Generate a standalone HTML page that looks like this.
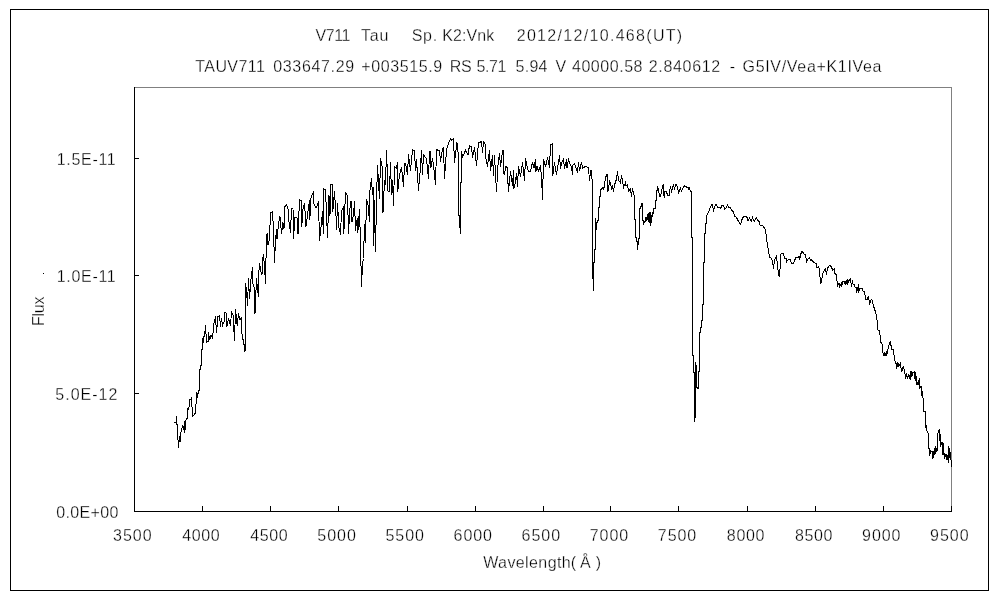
<!DOCTYPE html>
<html lang="ja"><head><meta charset="utf-8"><title>V711 Tau spectrum</title>
<style>html,body{margin:0;padding:0;background:#fff;}body{width:1000px;height:600px;overflow:hidden;}svg{display:block;}text{font-family:'Liberation Sans', 'IPAGothic', sans-serif;fill:#000;stroke:#fff;stroke-width:0.3px;paint-order:fill stroke;}</style></head><body>
<svg width="1000" height="600" viewBox="0 0 1000 600">
<rect x="0" y="0" width="1000" height="600" fill="#fff"/>
<rect x="10.5" y="9.5" width="978" height="581" fill="none" stroke="#000" stroke-width="1" shape-rendering="crispEdges"/>
<g shape-rendering="crispEdges">
<rect x="135" y="87" width="817" height="1" fill="#808080"/>
<rect x="951" y="87" width="1" height="424" fill="#808080"/>
<rect x="134" y="87" width="1" height="425" fill="#000"/>
<rect x="134" y="511" width="818" height="1" fill="#000"/>
<path d="M202 506h1v5h-1zM270 506h1v5h-1zM338 506h1v5h-1zM407 506h1v5h-1zM475 506h1v5h-1zM543 506h1v5h-1zM610 506h1v5h-1zM678 506h1v5h-1zM747 506h1v5h-1zM815 506h1v5h-1zM883 506h1v5h-1zM951 506h1v5h-1zM135 393h4v1h-4zM135 275h4v1h-4zM135 158h4v1h-4z" fill="#000"/>
</g>
<polyline points="174,422.5 176,422.5 176.5,416.5 177.5,432 178.5,447.5 179.5,436.5 180.5,441.5 181,432 182.5,425.5 183.5,430 184.5,421.5 184.8,432.5 186,420 187.5,418 188,408.5 188.8,409.5 189.5,400 191,399 191.5,397.5 192.5,416.5 194,415 195.5,413 196.5,396 197,392.5 197.5,397.5 198.5,390.5 199.5,390 199.5,369.5 200.5,369 200.5,365.5 201.5,365 201.5,350 202.5,349.5 202.5,338.5 203.5,343 203.5,336.5 204.5,336 205.5,325.5 206.5,342.5 207.5,341.5 208.5,341 208.5,332.5 209.5,340 211,335.5 212.5,338 214,323 215.5,316.5 216.5,332.5 218,316.5 219.5,315.5 220.5,326.5 221.5,318 222.5,325.5 224,322 225,312.5 226,312.5 227,326.5 228.5,318.5 230.5,326 231.5,311.5 233,315 234.5,340.5 235.5,309.5 237.2,325.5 238.5,313.5 240,320 241.5,317.5 242,334 242.5,339.5 243.5,340 243.5,344 244.5,344.5 244.5,352 245.5,350 245.5,283.5 246.5,290 247.5,305.5 248.5,278.5 249.5,299 250.5,285 251.5,274 252.5,267.5 253,284 254,287 255,313.5 256.5,278.5 257.5,289 258.5,296.5 259,270 259.5,263.5 261,272 262,274.5 262.5,260 263.5,254.5 264.5,267 265.5,283.5 266.5,235 267.5,233.5 268,245 269.5,239 270.5,213 272.5,212 273.5,230 274.5,262.5 275.5,240 276.5,229.5 277,239 278.5,224 280,216.5 281.5,233.5 283,222.5 284,229 284.5,207 286.5,204.5 288,209 289,222 290.5,232.5 291.5,208.5 293,209 293.5,238.5 295,217.5 297,218 298,234 299.5,199.5 301.5,201 301.8,226.5 303,209 304.5,203.5 306,226.5 308,211 309.5,200.5 309.8,220 311,198 313.5,191.5 314,204 316,208 317.5,205 318.5,201.5 319.5,240.5 321.5,223 322.5,211.5 323.3,233.5 323.5,188.5 325.5,190 327.5,237.5 329,195.5 330,215.5 330.5,184.5 332.5,184.5 332.8,211.5 334.5,191.5 336,216 336.5,229.5 337.5,203.5 339,228 340.5,234.5 341.5,211 343.5,207.5 343.8,234 345.5,192.5 347.5,196 348.5,233.5 349.5,215 350.5,201.5 351.5,201.5 352,222 353.5,215 354.5,201.5 355.5,230.5 356.5,222 357.5,218.5 357.8,232.5 359.5,209.5 360.5,243.5 361.5,286.5 362.5,264 363.5,258.5 364.5,224.5 365.5,242.5 366.5,199.5 368,205 369.5,221.5 370,190 371.5,178.5 372.5,195 373.5,187.5 373.8,246 374.5,200.5 375.5,251.5 376.5,200 377.5,165.5 379.5,199 380.5,158.5 382.5,169 383,212.5 384.5,180.5 385.5,185 386.5,150.5 388,191 389.5,191 390.5,162.5 391.5,195 392.5,180.5 393.5,205.5 394.5,166.5 396.5,168 397.5,162.5 397.8,191.5 399.5,173.5 399.5,175 401.5,167.5 403.5,186.5 404.5,164 405.5,163.5 407.5,174.5 408.5,154.5 410.5,170.5 412.5,149.5 414.5,151 415.5,171 416.5,159.5 418.5,190.5 420.5,167 421.5,150.5 422.5,174.5 423.5,154.5 426.5,159 428.5,178.5 429.5,151.5 430.5,151.5 430.8,168 432.5,158.5 433.5,165 435.5,184.5 436.5,149.5 439.5,151 440.5,161.5 442.5,149 443.5,147.5 444.5,178.5 446.5,150 448.5,143 450.5,139 451.5,140 453.5,139 454.5,162.5 457,142.5 458.5,157 458.5,215 459.5,215.5 459.5,227 460.5,227.5 460.5,233.5 460.5,182.5 461.5,182 461.5,151.5 462.5,157 465.5,150.5 468,155 469.5,145.5 471.5,147 472.5,157.5 474.5,147.5 476.5,165.5 478.5,143 480.5,142 481.5,141.5 482.5,153 483.5,141.5 485.5,145 485.8,157.5 487.5,166.5 489.5,150.5 490.5,170.5 492.5,155.5 493.5,175.5 494.5,155.5 496.5,191.5 498,165 499.5,153.5 500.5,167 502.5,151 503.5,150.5 504,173.5 504.5,174 506,166.5 507.5,168 507.8,180 508.5,191.5 510.5,171.5 512.5,185.5 513.5,170.5 514,188 514.5,187.5 516.5,173.5 517.5,186.5 518.5,166.5 520.5,176.5 522.5,162.5 524.5,180.5 525.5,158.5 527,166 528.5,171.5 530.5,171 532.5,162.5 534,168 535.5,159.5 535.8,171.5 537,166.5 538.5,171 540.5,166.5 541.5,177 542.5,199.5 543.5,159.5 545.5,167 547.5,157.5 549.5,168 550.5,145 552.5,143.5 552.8,175.5 554.5,162.5 556.5,174.5 559.5,155.5 560.5,168.5 562,162 563.5,158.5 564.5,168.5 566.5,159.5 567,168 568.5,158.5 569.5,163 571.5,167 572.5,174.5 573,165 574.5,163.5 575.5,167 577.5,171.5 578.5,162.5 579.5,170.5 581.5,162.5 582.5,168 584.5,167 586.5,166.5 588.5,168 589.5,180.5 590.5,171 591.5,170.5 592,179 592.5,179.5 592.5,267.5 593.5,290.5 593.5,262.5 594.5,262 594.5,249.5 595.5,249 595.5,218.5 596.5,229.7 596.5,223 597.5,222.8 597.5,220 598.5,220 598.5,207.5 599.5,207 599.5,196.5 600.5,196 600.5,190 602.5,188 603.5,187.5 603.8,190 604.5,183 606.5,174.5 607.5,174.5 607.8,191.5 608.5,189 609.5,180.5 610.5,184 611.5,188.5 612.5,185.5 613.5,191.5 614.5,185 616.5,179 617.5,171.5 618.5,180 620.5,183 621.5,175.5 622.5,181 623.5,187.5 625.5,182.5 626,186 627.5,184.5 628.5,191 630.5,188.5 631.5,196.5 632.5,188.5 633.5,194 634.5,196 634.5,219 635.5,219.5 635.5,237 636.5,237.5 636.5,241 637.5,241.5 637.5,249.5 638.5,241 638.5,238.5 639.5,238 639.5,208.5 640.5,208 640.5,206 641.5,206 641.5,203.5 642.5,203.5 642.5,220 643.5,220.5 643.5,224.5 644.5,221.5 645.5,221 645.5,217.5 646.5,218 646.5,220 647.5,219 647.5,215 648.5,213.5 648.5,220 649.5,223 649.5,212.5 650.5,213 650.5,226 651.5,220 651.5,215.5 652.5,216 652.5,212.5 653.5,213 653.5,208.5 654.5,208 655.5,208 655.5,200.5 656.5,200 656.5,190.5 657.5,190 657.5,186.5 657.5,186.5 658.5,190 659.5,196 660.5,196.5 661.5,192 662.5,186 663.5,184.5 663.8,195 664.5,196.5 665,191.5 666.5,191.5 667.5,195.5 669.5,195 670,189 670.5,186.5 671.5,191 672.5,188 673.5,184.5 674.5,190 675.5,184.5 676.5,184.5 677.5,188 678.5,192.5 680.5,188.5 681.5,191 683,188 684.5,186 686.5,187 688.5,188 689,190 689.5,188.5 690.5,191 691.5,192 691.5,237 692.5,237.5 692.5,355 693.5,355.5 693.5,372 694.5,372.5 694.5,422 695.5,415 695.5,362.5 696.5,367 696.5,387 697.5,388 698.5,388 698.5,371.5 699.5,371 699.5,332.5 700.5,332 700.5,327.5 701.5,327 701.5,320.5 702.5,320 702.5,304.5 703.5,304 703.5,262.5 704.5,262 704.5,235 705.5,232 705.5,223.5 706.5,223 706.5,216 708.5,212 710.5,207 711.5,204.5 712.5,204.5 713.5,211.5 714.5,207 716,204.5 717.5,207 720,207.5 721,208.5 721.5,205 723.5,205 724.5,209.5 726.5,207.5 727.5,205 728.5,207.5 730.5,207.5 731.5,210 733.5,212 734.5,216 736.5,217.5 738.5,221.5 740.5,224.5 741.5,221 742.5,218 743.5,217 745.5,216.5 747.5,217.5 748,220.5 749.5,218 750.5,220 751.5,221.5 752.5,217.5 753.5,220.5 754.5,221 755.5,218.5 756.5,217.5 757.5,220 759.5,222 760,225 761.5,225 763.5,226.5 765.5,230 766.5,238 767.5,245 769.5,257 771.5,258.5 772.5,262 773.5,268.5 774.5,260 776.5,256 777.5,265 778.5,275 779.5,276.5 780.5,262 780.8,254 781.5,253.5 783.5,254 784.5,258 786.5,259 786.8,261.5 788.5,259 790.5,259 791,262 792,263.5 793.5,263 794.5,261 795.5,258 797.5,257.5 799.5,256.5 799.8,259.5 800.5,255 801.5,252 802.5,251.5 803.5,253.5 805.5,255 806.5,261.5 807.5,259.5 809.5,257.5 810.5,260 811.5,259.5 812.5,261.5 814.5,262.5 816.5,264 817,268 818.5,266.5 819.5,270 820.5,283.5 821.5,282 822.5,275 823.5,271.5 825.5,268.5 826.5,274.5 827.5,268 829.5,265.5 831.5,266.5 832.5,270.5 834.5,268.5 834.8,273.5 836.5,275 837.5,286.5 838.5,283 839.5,283 839.8,286.5 841.5,283.5 841.8,286.5 842.5,281.5 844.5,281.5 844.8,284 845.5,281.5 845.8,284.5 846.5,282 847.5,279 847.8,284.5 848.5,281 850.5,279 851.5,286.5 852.5,280.5 853,284 854.5,284.5 854.8,287 856.5,288 856.8,291 857.5,289.5 858.5,284 858.8,292.5 859.5,289 860.5,288 862.5,288 863,291 864.5,292 865.5,297 866,299.5 867.5,299 868.5,296 869.5,304.5 870.5,301 871.5,299.5 872.5,301 873.5,306 874.5,309 875.5,312 876.5,316 877.5,323 878,330 879.5,331 880.5,338 881,342.5 882.5,345 883,353 883.5,356 884.5,352 885,355.5 886.5,351.5 886.8,356 887.5,350.5 888.5,347.5 889.5,343 890.5,341.5 890.8,345.5 891.5,346 892,349.5 893.5,350 894.5,359 895.5,363 896.5,363 896.8,368.5 897.5,362.5 898,367 898.5,363 899,366 900.5,362.5 900.8,367 901.5,369 902,371.5 902.5,368 903.5,366.5 904,369 904.5,372 905.5,376 905.8,378.5 906.5,375 907.5,378 908.5,375.5 909.5,378 910.5,371.5 910.8,379.5 911.5,371.5 912,376 912.5,372.5 913.5,372.5 914.5,371.5 914.8,378.5 915.5,372.5 915.8,380.5 916.5,376.5 917,384.5 917.5,383 918.5,380.5 918.8,384.5 919.5,378.5 919.8,388.5 920.5,387 921.5,386.5 921.8,395.5 922.5,391.5 922.8,396.5 923.5,400 924,411.5 925.5,412 926,427.5 926.5,426.5 927,431 928,433 928.5,448.5 929.5,449 929.8,455.5 930.5,450 931,452 932.5,451.5 932.8,458.5 933.5,451.5 933.8,457.5 934.5,448.5 935,452 935.5,446.5 935.8,453.5 936.5,448 937,451.5 937.5,435 938.5,431 939.5,429.5 939.8,441 940.5,434.5 940.8,446.5 941.5,443 942.5,442.5 942.8,454.5 943.5,443.5 943.8,454.5 944.5,454 944.8,458.5 945.5,454.5 946.5,454.5 946.8,459.5 947.5,455 947.8,459.5 948.5,446.5 948.8,462.5 949.5,448.5 950,452 950.5,459 951.5,461 951.5,467" fill="none" stroke="#000" stroke-width="1" stroke-linejoin="miter" shape-rendering="crispEdges"/>
<text y="41" font-size="16"><tspan x="315.5" textLength="35" lengthAdjust="spacing">V711</tspan> <tspan x="361" textLength="27.5" lengthAdjust="spacing">Tau</tspan> <tspan x="411.7" textLength="25.5" lengthAdjust="spacing">Sp.</tspan> <tspan x="442.2" textLength="52" lengthAdjust="spacing">K2:Vnk</tspan> <tspan x="516.7" textLength="165.5" lengthAdjust="spacing">2012/12/10.468(UT)</tspan></text>
<text y="72" font-size="16"><tspan x="195.3" textLength="69.5" lengthAdjust="spacing">TAUV711</tspan> <tspan x="273.2" textLength="81" lengthAdjust="spacing">033647.29</tspan> <tspan x="361.2" textLength="81" lengthAdjust="spacing">+003515.9</tspan> <tspan x="449.7" textLength="22" lengthAdjust="spacing">RS</tspan> <tspan x="476.5" textLength="30" lengthAdjust="spacing">5.71</tspan> <tspan x="515.5" textLength="32" lengthAdjust="spacing">5.94</tspan> <tspan x="555.6">V</tspan> <tspan x="572" textLength="70.5" lengthAdjust="spacing">40000.58</tspan> <tspan x="648.7" textLength="71.5" lengthAdjust="spacing">2.840612</tspan> <tspan x="729.7">-</tspan> <tspan x="742.5" textLength="139" lengthAdjust="spacing">G5IV/Vea+K1IVea</tspan></text>
<text y="568" font-size="16"><tspan x="483.2" textLength="87.5" lengthAdjust="spacing">Wavelength</tspan><tspan x="570.85">(</tspan><tspan x="579.95">Å</tspan><tspan x="595.75">)</tspan></text>
<text y="518" font-size="16"><tspan x="56.3" textLength="62" lengthAdjust="spacing">0.0E+00</tspan></text>
<text y="400" font-size="16"><tspan x="55.3" textLength="62" lengthAdjust="spacing">5.0E-12</tspan></text>
<text y="282" font-size="16"><tspan x="56.7" textLength="59" lengthAdjust="spacing">1.0E-11</tspan></text>
<text y="165" font-size="16"><tspan x="56.7" textLength="59" lengthAdjust="spacing">1.5E-11</tspan></text>
<text y="541" font-size="16"><tspan x="113.1" textLength="38.5" lengthAdjust="spacing">3500</tspan></text>
<text y="541" font-size="16"><tspan x="182.18" textLength="37.5" lengthAdjust="spacing">4000</tspan></text>
<text y="541" font-size="16"><tspan x="250.27" textLength="37.5" lengthAdjust="spacing">4500</tspan></text>
<text y="541" font-size="16"><tspan x="317.35" textLength="38.5" lengthAdjust="spacing">5000</tspan></text>
<text y="541" font-size="16"><tspan x="385.43" textLength="38.5" lengthAdjust="spacing">5500</tspan></text>
<text y="541" font-size="16"><tspan x="453.52" textLength="38.5" lengthAdjust="spacing">6000</tspan></text>
<text y="541" font-size="16"><tspan x="521.6" textLength="38.5" lengthAdjust="spacing">6500</tspan></text>
<text y="541" font-size="16"><tspan x="589.68" textLength="38.5" lengthAdjust="spacing">7000</tspan></text>
<text y="541" font-size="16"><tspan x="657.77" textLength="38.5" lengthAdjust="spacing">7500</tspan></text>
<text y="541" font-size="16"><tspan x="726.85" textLength="37.5" lengthAdjust="spacing">8000</tspan></text>
<text y="541" font-size="16"><tspan x="794.93" textLength="37.5" lengthAdjust="spacing">8500</tspan></text>
<text y="541" font-size="16"><tspan x="862.02" textLength="38.5" lengthAdjust="spacing">9000</tspan></text>
<text y="541" font-size="16"><tspan x="930.1" textLength="38.5" lengthAdjust="spacing">9500</tspan></text>
<text transform="translate(44,326) rotate(-90)" font-size="16" textLength="29.5" lengthAdjust="spacing">Flux</text>
<rect x="43" y="273" width="1" height="1" fill="#000"/>
</svg></body></html>
